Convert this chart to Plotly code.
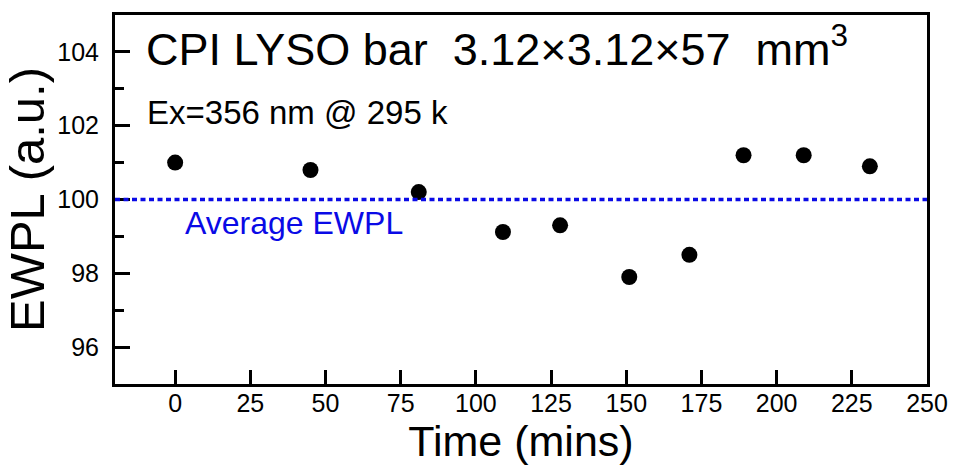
import plotly.graph_objects as go

time_mins = [0, 45, 81, 109, 128, 151, 171, 189, 209, 231]
ewpl = [101.0, 100.8, 100.2, 99.12, 99.3, 97.9, 98.5, 101.2, 101.2, 100.9]
average_ewpl = 100.0
x_ticks = [0, 25, 50, 75, 100, 125, 150, 175, 200, 225, 250]
y_ticks = [96, 98, 100, 102, 104]

FONT = "Liberation Sans, Arial, Helvetica, sans-serif"
BLUE = "#0a0ae6"
NB = "\u00a0"

fig = go.Figure()
fig.add_trace(go.Scatter(
    x=time_mins, y=ewpl, mode="markers",
    marker=dict(color="black", size=16, line=dict(width=0)),
    showlegend=False, hoverinfo="x+y",
))

fig.add_shape(type="line", xref="paper", x0=0, x1=1, yref="y",
              y0=average_ewpl, y1=average_ewpl,
              line=dict(color=BLUE, width=3.5, dash="5px,3.5px"))

fig.add_annotation(xref="paper", yref="paper", x=0.036, y=1.0,
                   xanchor="left", yanchor="top", showarrow=False,
                   text=f"CPI LYSO bar{NB}{NB}3.12×3.12×57{NB}{NB}mm<sup>3</sup>",
                   font=dict(family=FONT, size=45, color="black"))
fig.add_annotation(xref="paper", yref="paper", x=0.037, y=0.79,
                   xanchor="left", yanchor="top", showarrow=False,
                   text="Ex=356 nm @ 295 k",
                   font=dict(family=FONT, size=33, color="black"))
fig.add_annotation(xref="x", yref="y", x=2.5, y=average_ewpl - 0.1,
                   xanchor="left", yanchor="top", showarrow=False,
                   text="Average EWPL",
                   font=dict(family=FONT, size=32, color=BLUE))

fig.update_layout(
    width=960, height=476,
    margin=dict(l=115, r=33, t=15, b=92),
    paper_bgcolor="white", plot_bgcolor="white",
    font=dict(family=FONT, color="black"),
    xaxis=dict(
        range=[-20, 250], tickvals=x_ticks, ticks="inside", ticklen=14,
        tickwidth=2.5, tickcolor="black", showline=True, linecolor="black",
        linewidth=3, mirror=True, showgrid=False, zeroline=False,
        tickfont=dict(family=FONT, size=25, color="black"),
        ticklabelstandoff=-5,
        title=dict(text="Time (mins)", font=dict(family=FONT, size=43, color="black"), standoff=0),
    ),
    yaxis=dict(
        range=[95, 105], tickvals=y_ticks, ticks="inside", ticklen=15,
        tickwidth=2.5, tickcolor="black", showline=True, linecolor="black",
        linewidth=3, mirror=True, showgrid=False, zeroline=False,
        tickfont=dict(family=FONT, size=25, color="black"),
        ticklabelstandoff=8,
        minor=dict(dtick=1, ticks="inside", ticklen=9, tickwidth=2.5, tickcolor="black", showgrid=False),
        title=dict(text="EWPL (a.u.)", font=dict(family=FONT, size=49, color="black"), standoff=0),
    ),
)

fig.write_html("out.html")
